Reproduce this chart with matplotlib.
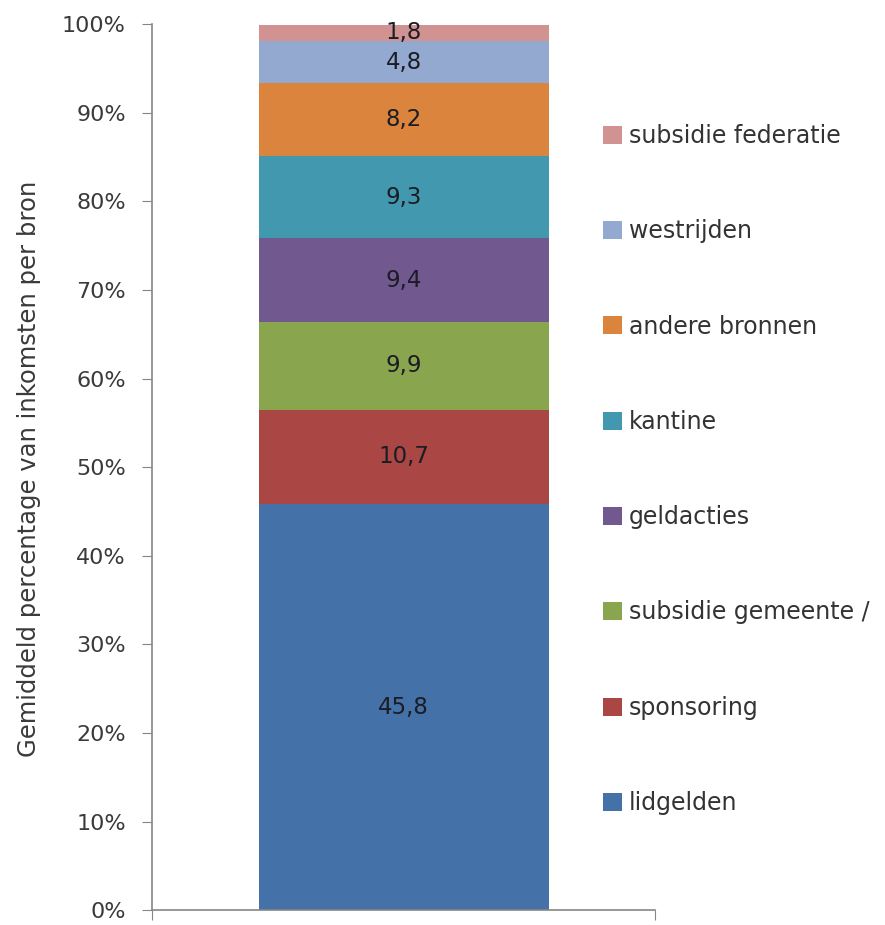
import matplotlib
matplotlib.use("Agg")
import matplotlib.pyplot as plt
from matplotlib.patches import Patch
from matplotlib.ticker import PercentFormatter

plt.rcParams['font.family'] = ['DejaVu Sans']

# income sources, bottom to top of the stack
sources = ['lidgelden', 'sponsoring', 'subsidie gemeente /', 'geldacties',
           'kantine', 'andere bronnen', 'westrijden', 'subsidie federatie']
shares = [45.8, 10.7, 9.9, 9.4, 9.3, 8.2, 4.8, 1.8]
colors = ['#4472A8', '#AA4643', '#89A54E', '#71588F',
          '#4198AF', '#DB843D', '#93A9CF', '#D19392']
yticks = [0, 10, 20, 30, 40, 50, 60, 70, 80, 90, 100]

fig = plt.figure(figsize=(8.85, 9.25), dpi=100)
ax = fig.add_axes([0.172, 0.016, 0.568, 0.958])

bottom = 0.0
for name, val, col in zip(sources, shares, colors):
    ax.bar(0, val, width=0.577, bottom=bottom, color=col, label=name)
    ax.text(0, bottom + val / 2, f"{val:.1f}".replace('.', ','),
            ha='center', va='center', fontsize=16.5, color='#1c1c24')
    bottom += val

ax.set_xlim(-0.5, 0.5)
ax.set_ylim(0, 100)
ax.set_yticks(yticks)
ax.yaxis.set_major_formatter(PercentFormatter(decimals=0))
ax.set_xticks([-0.5, 0.5])
ax.set_xticklabels([])

for side in ['top', 'right']:
    ax.spines[side].set_visible(False)
for side in ['left', 'bottom']:
    ax.spines[side].set_color('#868686')
    ax.spines[side].set_linewidth(1.2)
ax.tick_params(axis='y', length=7, color='#868686', labelsize=16,
               labelcolor='#3a3a3a', pad=12)
ax.tick_params(axis='x', length=7, color='#868686')

ax.set_ylabel('Gemiddeld percentage van inkomsten per bron',
              fontsize=17.5, color='#3a3a3a')
ax.yaxis.set_label_coords(-0.222, 0.498)

handles = [Patch(facecolor=c, edgecolor='none', label=n)
           for n, c in zip(sources, colors)][::-1]
fig.legend(handles=handles, loc='upper left', bbox_to_anchor=(0.681, 0.866),
           frameon=False, fontsize=17, labelcolor='#333333',
           handlelength=0.8, handleheight=0.8, handletextpad=0.3,
           labelspacing=3.02, borderpad=0, borderaxespad=0)

fig.savefig('out.png', dpi=100)
